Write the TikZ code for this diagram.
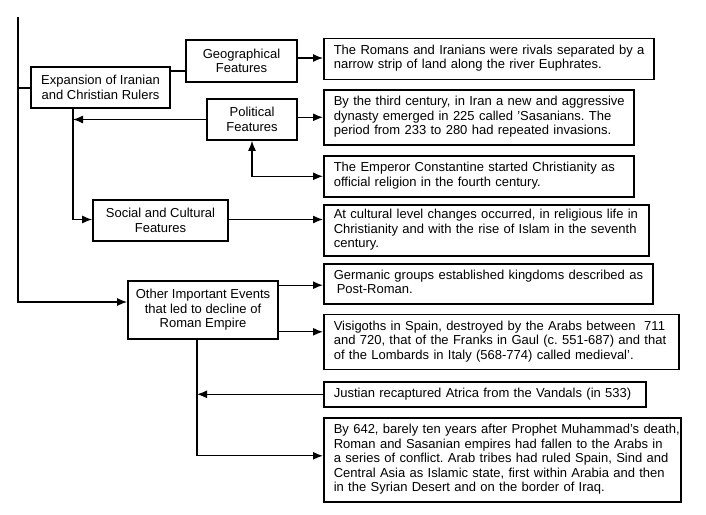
\documentclass[tikz,border=0pt]{standalone}
\usepackage{fontspec}
\setmainfont{Liberation Sans}
\usetikzlibrary{arrows.meta,calc}
\frenchspacing
\newcommand{\tx}[1]{\noindent\begin{tabular}{@{}l@{}}#1\end{tabular}}
\begin{document}
\begin{tikzpicture}[x=1pt,y=-1pt,
  every node/.style={font=\fontsize{13}{14.5}\selectfont\frenchspacing},
  cbox/.style={draw, line width=1.6pt, align=center, inner sep=2pt},
  rbox/.style={draw, line width=1.6pt, align=left, inner xsep=10pt, inner ysep=2pt, anchor=north west},
  con/.style={line width=1.3pt},
  arr/.style={con, -{Latex[length=10pt,width=8pt]}},
  arrs/.style={con, {Latex[length=10pt,width=8pt]}-{Latex[length=10pt,width=8pt]}}]
\fill[white] (0,0) rectangle (706,514);
\useasboundingbox (0,0) rectangle (706,514);

% left boxes
\node[cbox, minimum width=139pt, minimum height=41pt] (exp) at (100.5,87.5) {Expansion of Iranian\\and Christian Rulers};
\node[cbox, minimum width=111pt, minimum height=42pt] (geo) at (241.5,61) {Geographical\\Features};
\node[cbox, minimum width=90pt, minimum height=41pt] (pol) at (252,119.5) {Political\\Features};
\node[cbox, minimum width=135pt, minimum height=41pt] (soc) at (160.5,220.5) {Social and Cultural\\Features};
\node[cbox, minimum width=150pt, minimum height=58pt] (oth) at (203,310) {Other Important Events\\that led to decline of\\Roman Empire};

% right boxes
\node[rbox, text width=310pt, minimum height=41pt] (r1) at (323,37.5) {\tx{The Romans and Iranians were rivals separated by a\\narrow strip of land along the river Euphrates.}};
\node[rbox, text width=290pt, minimum height=55pt] (r2) at (323,89) {\tx{By the third century, in Iran a new and aggressive\\dynasty emerged in 225 called 'Sasanians. The\\period from 233 to 280 had repeated invasions.}};
\node[rbox, text width=290pt, minimum height=41pt] (r3) at (323,155) {\tx{The Emperor Constantine started Christianity as\\official religion in the fourth century.}};
\node[rbox, text width=305pt, minimum height=51pt] (r4) at (323,204) {\tx{At cultural level changes occurred, in religious life in\\Christianity and with the rise of Islam in the seventh\\century.}};
\node[rbox, text width=309pt, minimum height=40pt] (r5) at (323,263) {\tx{Germanic groups established kingdoms described as\\\hspace{3pt}Post-Roman.}};
\node[rbox, text width=335pt, minimum height=55pt] (r6) at (323,313.5) {\tx{Visigoths in Spain, destroyed by the Arabs between \ 711\\and 720, that of the Franks in Gaul (c. 551-687) and that\\of the Lombards in Italy (568-774) called medieval'.}};
\node[rbox, text width=302pt, minimum height=25pt] (r7) at (323,381) {\tx{Justian recaptured Atrica from the Vandals (in 533)}};
\node[rbox, text width=337pt, minimum height=84pt] (r8) at (323,417) {\tx{By 642, barely ten years after Prophet Muhammad's death,\\Roman and Sasanian empires had fallen to the Arabs in\\a series of conflict. Arab tribes had ruled Spain, Sind and\\Central Asia as Islamic state, first within Arabia and then\\in the Syrian Desert and on the border of Iraq.}};

% coordinates
\coordinate (top) at (18,17);
\coordinate (j1) at (18,88);
\coordinate (b1) at ([xshift=-27.5pt]exp.south);
\coordinate (b2) at ([xshift=-6pt]oth.south);

% trunk
\draw[arr, line width=1.6pt] (top) |- ([yshift=8pt]oth.west);
\draw[con, line width=1.6pt] (j1) -- (j1 -| exp.west);

% upper group
\draw[con] ([yshift=-10pt]geo.west) -- ([yshift=-10pt]geo.west -| exp.east);
\draw[arr] ([yshift=3pt]geo.east) -- ([yshift=3pt]geo.east -| r1.west);
\draw[arr] (r2.west -| pol.east) -- (r2.west);
\draw[arr] (pol.west) -- (pol.west -| b1);
\draw[arr] (b1) |- ([yshift=1pt]soc.west);
\draw[arrs] (pol.south) |- (r3.west);
\draw[arr] ([yshift=1pt]soc.east) -- ([yshift=1pt]soc.east -| r4.west);

% lower group
\draw[arr] ([yshift=-5pt]oth.north east) -- ([yshift=-5pt]oth.north east -| r5.west);
\draw[arr] ([yshift=8pt]oth.south east) -- ([yshift=8pt]oth.south east -| r6.west);
\draw[arr] (b2) |- ([yshift=4pt]r8.west);
\draw[arr] (r7.west) -- (r7.west -| b2);
\end{tikzpicture}
\end{document}
